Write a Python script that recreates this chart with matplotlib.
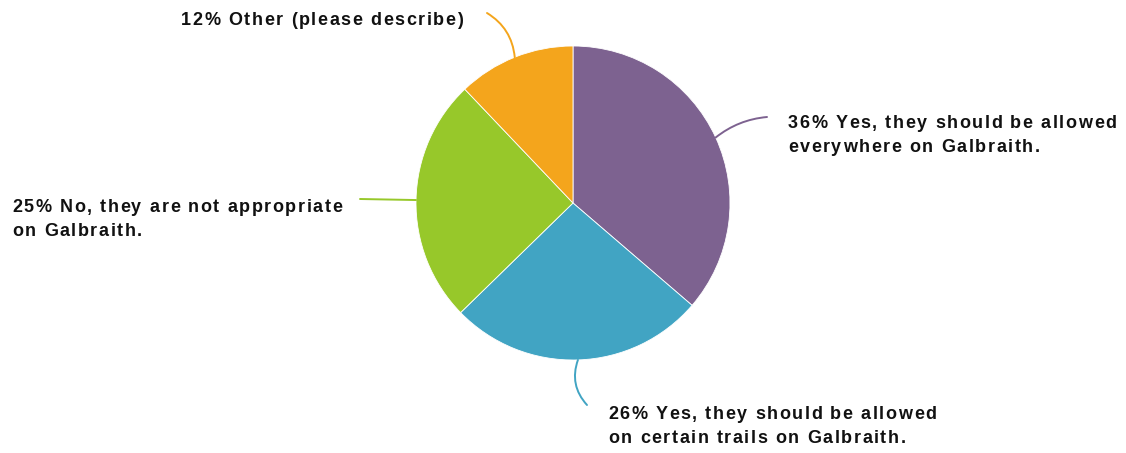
import numpy as np
import matplotlib.pyplot as plt
from matplotlib.font_manager import FontProperties, findfont, get_font
from matplotlib import ft2font

# survey answers, clockwise from the top
labels = [['36% Yes, they should be allowed', 'everywhere on Galbraith.'],
          ['26% Yes, they should be allowed', 'on certain trails on Galbraith.'],
          ['25% No, they are not appropriate', 'on Galbraith.'],
          ['12% Other (please describe)']]
shares = [36.3, 26.4, 25.2, 12.1]
colors = ['#7D6290', '#41A4C3', '#97C82A', '#F4A51C']

# label anchor (pixels, top-left origin, first baseline), alignment, leader line end
label_pos = [(788, 128), (608, 419), (12, 212), (463, 25)]
label_ha = ['left', 'left', 'left', 'right']
line_end = [(767, 117), (587, 405), (360, 199), (487, 13)]
line_rad = [-0.15, 0.3, 0.0, 0.25]

W, H = 1126, 453
fig = plt.figure(figsize=(W / 100, H / 100), dpi=100)
ax = fig.add_axes([0, 0, 1, 1])

cx, cy, r = 573, H - 203, 157
wedges, _ = ax.pie(shares, colors=colors, startangle=90, counterclock=False,
                   center=(cx, cy), radius=r,
                   wedgeprops=dict(edgecolor='white', linewidth=0.6))
ax.set_xlim(0, W)
ax.set_ylim(0, H)
ax.set_aspect('auto')
ax.axis('off')

# letter-spaced labels: place glyphs one by one from the font's own metrics
fp = FontProperties(family='Liberation Sans', weight='bold', size=13)
font = get_font(findfont(fp))
em = font.units_per_EM
px = 13 * 100 / 72 / em   # font units -> pixels
track = 1.55              # extra letter spacing, px
try:
    no_scale = ft2font.LoadFlags.NO_SCALE
    unscaled = ft2font.Kerning.UNSCALED
except AttributeError:
    no_scale, unscaled = 1, 2


def metrics(ch):
    g = font.load_char(ord(ch), flags=no_scale)
    return g.horiAdvance * px, g.horiBearingX * px


def kern(a, b):
    try:
        return font.get_kerning(font.get_char_index(ord(a)),
                                font.get_char_index(ord(b)), unscaled) * px
    except Exception:
        return 0.0


def layout(s):
    pos, pen = [], 0.0
    for i, ch in enumerate(s):
        if i:
            pen += kern(s[i - 1], ch) + track
        adv, bx = metrics(ch)
        pos.append(pen + bx)
        pen += adv
    return pos, pen


def spaced_text(x, y, s, ha):
    pos, total = layout(s)
    x0 = x - total if ha == 'right' else x
    for ch, p in zip(s, pos):
        if ch == ' ':
            continue
        ax.text(x0 + p, y, ch, ha='left', va='baseline',
                fontproperties=fp, color='#111111')


for w, lines, lp, ha, end, rad, col in zip(wedges, labels, label_pos, label_ha,
                                           line_end, line_rad, colors):
    mid = np.deg2rad((w.theta1 + w.theta2) / 2)
    start = (cx + r * np.cos(mid), cy + r * np.sin(mid))
    ax.annotate('', xy=(end[0], H - end[1]), xytext=start,
                arrowprops=dict(arrowstyle='-', color=col, lw=1.4,
                                shrinkA=0, shrinkB=0,
                                connectionstyle=f'arc3,rad={rad}'))
    for k, line in enumerate(lines):
        spaced_text(lp[0], H - lp[1] - 24 * k, line, ha)

fig.savefig('out.png', dpi=100)
